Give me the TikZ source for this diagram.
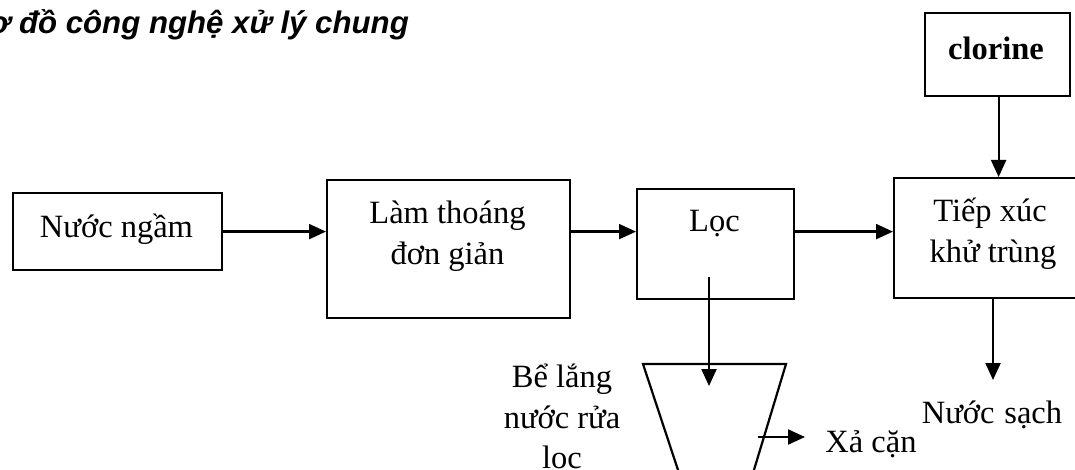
\documentclass[tikz,border=0pt]{standalone}
\usepackage{fontspec}
\setmainfont{Liberation Serif}
\newfontfamily\titlefont{Liberation Sans}
\usetikzlibrary{arrows.meta,calc}
\begin{document}
\begin{tikzpicture}[x=1pt,y=-1pt,
  box/.style={draw,line width=2.2pt,inner sep=0pt,anchor=north west},
  lbl/.style={anchor=base,inner sep=0pt,font=\fontsize{32.5}{40}\selectfont},
  arr/.style={line width=2.2pt,-{Triangle[length=17pt,width=15pt]}},
  ln/.style={line width=2.2pt}]
\useasboundingbox (0,0) rectangle (1075,470);
\clip (0,0) rectangle (1075,470);
% title
\node[anchor=base east,inner sep=0pt,font=\titlefont\fontsize{31.2}{36}\selectfont\bfseries\itshape] (title) at (409,34) {Sơ đồ công nghệ xử lý chung};
% boxes
\node[box,minimum width=209pt,minimum height=77pt] (ngam) at (12,192) {};
\node[box,minimum width=243pt,minimum height=138pt] (lam) at (326,179) {};
\node[box,minimum width=157pt,minimum height=110pt] (loc) at (636,188) {};
\node[box,minimum width=200pt,minimum height=120pt] (tiep) at (893,177) {};
\node[box,minimum width=145pt,minimum height=83pt] (clo) at (924,12) {};
% texts
\node[lbl] (tngam) at (116.5,237) {Nước ngầm};
\node[lbl] (tlam1) at (447.5,224) {Làm thoáng};
\node[lbl] (tlam2) at (447.5,264) {đơn giản};
\node[lbl] (tloc) at (714.5,232) {Lọc};
\node[lbl] (ttiep1) at (990,222) {Tiếp xúc};
\node[lbl] (ttiep2) at (993,262) {khử trùng};
\node[lbl,font=\fontsize{32.5}{40}\selectfont\bfseries] (tclo) at (996,60) {clorine};
\node[lbl] (tsach) at (992,423) {Nước\hspace{0.3em}sạch};
\node[lbl] (txa) at (871,452) {Xả cặn};
\node[lbl] (tbe1) at (562,387) {Bể lắng};
\node[lbl] (tbe2) at (562,428) {nước rửa};
\node[lbl] (tbe3) at (562,468) {lọc};
% settling tank (trapezoid)
\coordinate (tl) at (643,364);
\coordinate (tr) at (786,364);
\coordinate (bl) at (684.6,490);
\coordinate (br) at (747.9,490);
\draw[ln] (bl) -- (tl) -- (tr) -- (br);
% connectors
\draw[arr] (ngam.east) -- (ngam.east -| lam.west);
\draw[arr] (ngam.east -| lam.east) -- (ngam.east -| loc.west);
\draw[arr] (ngam.east -| loc.east) -- (ngam.east -| tiep.west);
\draw[arr] (clo.south) ++(1,0) coordinate (cs) -- (cs |- tiep.north);
\coordinate (ts) at ($(tiep.south west)+(100,0)$);
\coordinate (sachtop) at (993,380);
\draw[arr] (ts) -- (ts |- sachtop);
\coordinate (locin) at (709,277);
\coordinate (locend) at (709,386);
\draw[arr] (locin) -- (locend);
\coordinate (xastart) at (758,437);
\coordinate (xaend) at (805,437);
\draw[arr] (xastart) -- (xaend);
\end{tikzpicture}
\end{document}
